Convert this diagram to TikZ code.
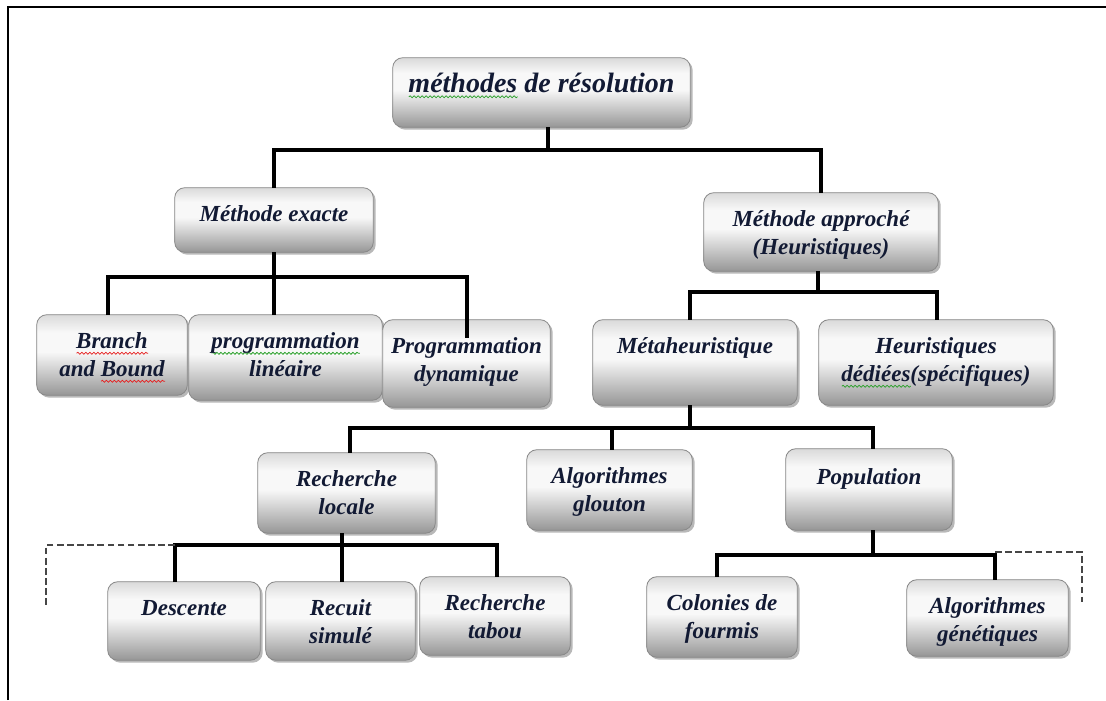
\documentclass[tikz,border=0pt]{standalone}
\usepackage{fontspec}
\setmainfont{Liberation Serif}
\usetikzlibrary{shadows,decorations.pathmorphing,backgrounds}

\definecolor{txt}{RGB}{18,26,52}
\definecolor{wavegreen}{RGB}{40,160,40}
\definecolor{wavered}{RGB}{230,30,30}
\definecolor{shBot}{RGB}{150,150,150}
\definecolor{shMid}{RGB}{205,205,205}
\definecolor{shWhite}{RGB}{248,248,248}
\definecolor{shTop}{RGB}{218,218,218}
\definecolor{edge}{RGB}{135,135,135}
\definecolor{dashgray}{RGB}{70,70,70}

% silver box fill: light near the top, darker towards the bottom
\pgfdeclareverticalshading{boxshade}{100bp}{color(0bp)=(shBot); color(25bp)=(shBot); color(40bp)=(shMid); color(52bp)=(shWhite); color(64bp)=(shWhite); color(75bp)=(shTop); color(100bp)=(shTop)}

% word with a wavy underline
\newsavebox\sqbox
\newcommand\squig[2]{\leavevmode\sbox\sqbox{#2}\rlap{\raisebox{-3.6pt}{\tikz[baseline=0pt]\draw[#1,line width=0.55pt,decorate,decoration={snake,amplitude=0.75pt,segment length=3pt}] (0pt,0pt) -- (\wd\sqbox,0pt);}}\usebox\sqbox}

% box content: top padding, width and height in px, text
\newcommand\boxtxt[4]{\parbox[c][\dimexpr #3pt*3/4\relax][t]{\dimexpr #2pt*3/4\relax}{\centering\vspace*{#1}\strut #4}}

\tikzset{
  box/.style={inner sep=0pt, text=txt, font=\fontsize{17.25}{21}\selectfont\bfseries\itshape},
  bigbox/.style={box, font=\fontsize{21}{25}\selectfont\bfseries\itshape},
  boxfill/.style={draw=edge, line width=0.6pt, rounded corners=7.5pt, shade, shading=boxshade,
    drop shadow={shadow xshift=1.8pt, shadow yshift=-1.8pt, opacity=0.28, fill=black}},
  conn/.style={draw=black, line width=3pt},
  dashline/.style={draw=dashgray, line width=1.4pt, dash pattern=on 5pt off 2.6pt},
}

\begin{document}
\begin{tikzpicture}[x=0.75pt, y=-0.75pt]
\useasboundingbox (0,0) rectangle (1106,700);

% page frame
\draw[line width=2.2pt] (8,700) -- (8,7) -- (1106,7);

% boxes (text part)
\node[bigbox] (root)   at (541.5,92.5) {\boxtxt{8pt}{297}{69}{\squig{wavegreen}{méthodes} de résolution}};
\node[box]    (exact)  at (274,220)    {\boxtxt{10.4pt}{198}{64}{Méthode exacte}};
\node[box]    (appr)   at (821,232)    {\boxtxt{10.4pt}{234}{78}{Méthode approché\\(Heuristiques)}};
\node[box]    (bb)     at (112,355)    {\boxtxt{10.4pt}{150}{80}{\squig{wavered}{Branch}\\and \squig{wavered}{Bound}}};
\node[box]    (pl)     at (285.5,357.5){\boxtxt{10.4pt}{193}{85}{\squig{wavegreen}{programmation}\\linéaire}};
\node[box]    (pd)     at (466.5,363.5){\boxtxt{10.4pt}{167}{87}{Programmation\\dynamique}};
\node[box]    (meta)   at (695,362.5)  {\boxtxt{10.4pt}{204}{85}{Métaheuristique}};
\node[box]    (hd)     at (936,362.5)  {\boxtxt{10.4pt}{234}{85}{Heuristiques\\\squig{wavegreen}{dédiées}(spécifiques)}};
\node[box]    (rl)     at (346.5,493)  {\boxtxt{10.4pt}{177}{80}{Recherche\\locale}};
\node[box]    (ag)     at (609.5,490)  {\boxtxt{10.4pt}{165}{80}{Algorithmes\\glouton}};
\node[box]    (pop)    at (869,489.5)  {\boxtxt{12pt}{166}{81}{Population}};
\node[box]    (desc)   at (184,621)    {\boxtxt{10.4pt}{152}{78}{Descente}};
\node[box]    (recuit) at (340.5,621)  {\boxtxt{10.4pt}{149}{78}{Recuit\\simulé}};
\node[box]    (tabou)  at (495,616)    {\boxtxt{10.4pt}{150}{78}{Recherche\\tabou}};
\node[box]    (col)    at (722,617)    {\boxtxt{10.4pt}{150}{80}{Colonies de\\fourmis}};
\node[box]    (gen)    at (987.5,618)  {\boxtxt{10.4pt}{161}{76}{Algorithmes\\génétiques}};

% silver rounded frames behind the texts
\begin{scope}[on background layer]
  \foreach \n in {root,exact,appr,bb,pl,pd,meta,hd,rl,ag,pop,desc,recuit,tabou,col,gen}
    \path[boxfill] (\n.south west) rectangle (\n.north east);
\end{scope}

% junction points of the tree
\coordinate (jA) at (548,150);
\coordinate (jB) at (274,277);
\coordinate (bL) at (108,277);
\coordinate (bR) at (467,277);
\coordinate (cS) at (818,292);
\coordinate (cL) at (690,292);
\coordinate (cR) at (937,292);
\coordinate (dS) at (690,428);
\coordinate (dL) at (350,428);
\coordinate (dM) at (612,428);
\coordinate (dR) at (873,428);
\coordinate (eS) at (342,545);
\coordinate (eL) at (175,545);
\coordinate (eR) at (497,545);
\coordinate (eD) at (46,607);
\coordinate (fS) at (873,555);
\coordinate (fL) at (717,555);
\coordinate (fR) at (995,555);
\coordinate (fT) at (995,552);
\coordinate (fD) at (1082,602);

% level 1
\draw[conn] (root.south -| jA) -- (jA);
\draw[conn] (exact.north) |- (jA) -| (appr.north);

% exact methods
\draw[conn] (exact.south) -- (jB);
\draw[conn] (bb.north -| bL) |- (bR) -- ++(0,61);
\draw[conn] (jB) -- (pl.north -| jB);

% approximate methods
\draw[conn] (appr.south -| cS) -- (cS);
\draw[conn] (meta.north -| cL) -- (cL) -- (cR) -- (hd.north -| cR);

% metaheuristics
\draw[conn] (meta.south -| dS) -- (dS);
\draw[conn] (rl.north -| dL) -- (dL) -- (dR) -- (pop.north -| dR);
\draw[conn] (dM) -- (ag.north -| dM);

% local search
\draw[conn] (rl.south -| eS) -- (recuit.north -| eS);
\draw[conn] (desc.north -| eL) -- (eL) -- (eR) -- (tabou.north -| eR);
\draw[dashline] (eL) -| (eD);

% population based
\draw[conn] (pop.south -| fS) -- (fS);
\draw[conn] (col.north -| fL) -- (fL) -- (fR) -- (gen.north -| fR);
\draw[dashline] (fT) -| (fD);
\end{tikzpicture}
\end{document}
